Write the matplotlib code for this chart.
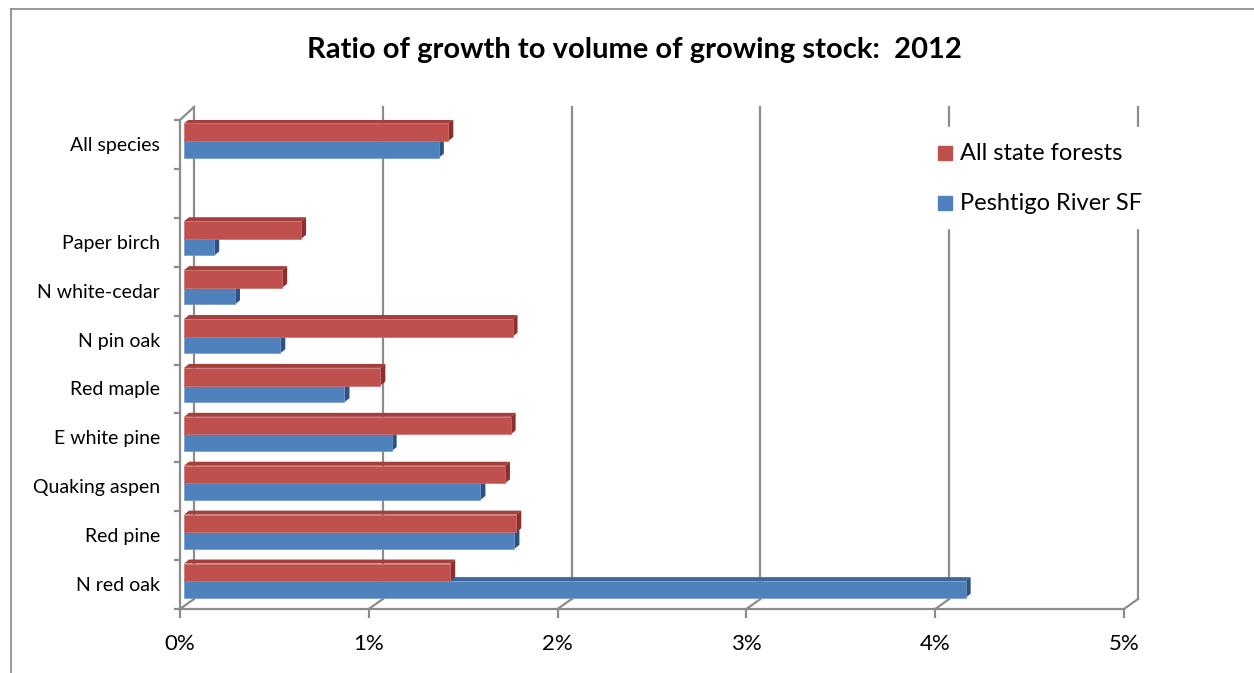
import numpy as np
import matplotlib.pyplot as plt
from matplotlib.patches import Polygon, Rectangle
from matplotlib.lines import Line2D

# %% data
categories = ["All species", "", "Paper birch", "N white-cedar", "N pin oak", "Red maple",
              "E white pine", "Quaking aspen", "Red pine", "N red oak"]
all_state = [1.40, np.nan, 0.62, 0.52, 1.74, 1.04, 1.73, 1.70, 1.76, 1.41]
peshtigo = [1.35, np.nan, 0.16, 0.27, 0.51, 0.85, 1.10, 1.57, 1.75, 4.14]
xticks = [0, 1, 2, 3, 4, 5]
xtick_labels = ["0%", "1%", "2%", "3%", "4%", "5%"]
series_names = ["All state forests", "Peshtigo River SF"]

RED, RED_TOP, RED_SIDE, RED_EDGE = "#C0504D", "#A3403D", "#8C302D", "#CB6E6B"
BLUE, BLUE_TOP, BLUE_SIDE, BLUE_EDGE = "#4F81BD", "#3D6798", "#2C5283", "#7399C9"
GRID = "#8C8C8C"

plt.rcParams['font.family'] = ['Lato', 'DejaVu Sans']

W, H = 1254, 673
fig = plt.figure(figsize=(W / 100, H / 100), dpi=100)
x0, x1, y_top, y_bot = 180, 1124, 120, 609
ax = fig.add_axes([x0 / W, 1 - y_bot / H, (x1 - x0) / W, (y_bot - y_top) / H])
n = len(categories)
ax.set_xlim(0, 5)
ax.set_ylim(n - 0.5, -0.5)
ax.axis('off')

# pixel -> data unit helpers
px_x = 5 / (x1 - x0)
px_y = n / (y_bot - y_top)

# back wall + floor
bdx, bdy_bot, bdy_top = 14 * px_x, 10 * px_y, 13 * px_y
for k in xticks:
    ax.add_line(Line2D([k + bdx, k + bdx], [n - 0.5 - bdy_bot, -0.5 - bdy_top], color=GRID, lw=1.6, clip_on=False, zorder=1))
    ax.add_line(Line2D([k, k + bdx], [n - 0.5, n - 0.5 - bdy_bot], color=GRID, lw=1.6, clip_on=False, zorder=1))
    ax.add_line(Line2D([k, k], [n - 0.5, n - 0.5 + 8 * px_y], color=GRID, lw=1.6, clip_on=False, zorder=1))
    ax.text(k, n - 0.5 + 35 * px_y, xtick_labels[k], ha='center', va='center', fontsize=16, color='#000000')
# front axes
ax.add_line(Line2D([0, 5], [n - 0.5, n - 0.5], color=GRID, lw=1.6, clip_on=False, zorder=1))
ax.add_line(Line2D([0, 0], [n - 0.5, -0.5], color=GRID, lw=1.6, clip_on=False, zorder=1))
ax.add_line(Line2D([0, bdx], [-0.5, -0.5 - bdy_top], color=GRID, lw=1.6, clip_on=False, zorder=1))
for e in np.arange(n + 1) - 0.5:
    ax.add_line(Line2D([0, -5 * px_x], [e, e], color=GRID, lw=1.6, clip_on=False, zorder=1))

for i, c in enumerate(categories):
    ax.text(-20 * px_x, i + 0.02, c, ha='right', va='center', fontsize=14, color='#000000')

# 3D-looking bars
off = 4 * px_x
ddx, ddy = 5 * px_x, 4 * px_y


def bar3d(y, h, v, front, top, side, edge, z):
    if np.isnan(v):
        return
    yt, yb = y - h / 2, y + h / 2
    ax.add_patch(Polygon([(off, yt), (off + v, yt), (off + v + ddx, yt - ddy), (off + ddx, yt - ddy)],
                         closed=True, fc=top, ec='none', zorder=z))
    ax.add_patch(Polygon([(off + v, yt), (off + v + ddx, yt - ddy), (off + v + ddx, yb - ddy), (off + v, yb)],
                         closed=True, fc=side, ec='none', zorder=z))
    ax.barh(y, v, height=h, left=off, color=front, edgecolor=edge, linewidth=0.5, zorder=z + 0.5)


for i in range(n):
    bar3d(i + 0.10, 0.34, peshtigo[i], BLUE, BLUE_TOP, BLUE_SIDE, BLUE_EDGE, 3)
    bar3d(i - 0.25, 0.36, all_state[i], RED, RED_TOP, RED_SIDE, RED_EDGE, 5)

# chart border
fig.add_artist(Line2D([11 / W, 1], [1 - 9 / H, 1 - 9 / H], color='#868686', lw=1.2))
fig.add_artist(Line2D([11 / W, 11 / W], [0, 1 - 9 / H], color='#868686', lw=1.2))

fig.text(634 / W, 1 - 50 / H, "Ratio of growth to volume of growing stock:  2012",
         ha='center', va='center', fontsize=21, fontweight='bold')

# legend (white box hides the back gridlines behind it)
fig.add_artist(Rectangle((932 / W, 1 - 228 / H), 222 / W, 101 / H, color='white', transform=fig.transFigure, zorder=2))
for j, (name, col) in enumerate(zip(series_names, [RED, BLUE])):
    yc = 153 + 50 * j
    fig.add_artist(Rectangle((938 / W, 1 - (yc + 7) / H), 14 / W, 14 / H, color=col, transform=fig.transFigure, zorder=3))
    fig.text(960 / W, 1 - yc / H, name, ha='left', va='center', fontsize=17, color='#000000', zorder=4)

fig.savefig("out.png", dpi=100)
